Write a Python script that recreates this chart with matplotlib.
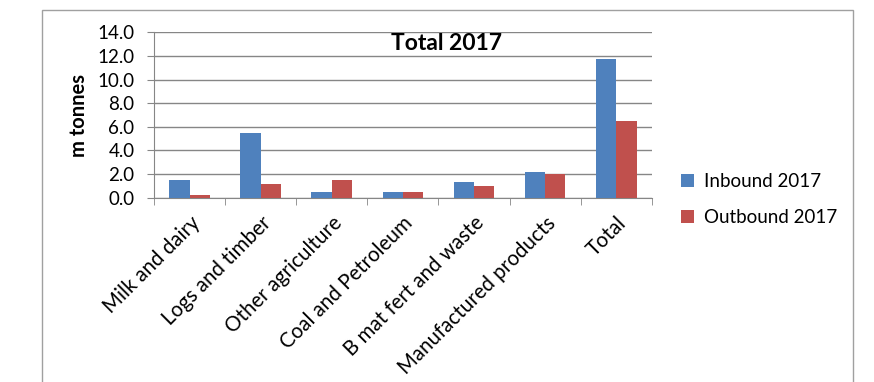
import matplotlib
matplotlib.use("Agg")
import matplotlib.pyplot as plt
from matplotlib.patches import Rectangle
import numpy as np

categories = ["Milk and dairy", "Logs and timber", "Other agriculture",
              "Coal and Petroleum", "B mat fert and waste",
              "Manufactured products", "Total"]
inbound_2017 = [1.5, 5.5, 0.5, 0.5, 1.3, 2.2, 11.7]
outbound_2017 = [0.2, 1.2, 1.5, 0.45, 1.0, 2.0, 6.5]
y_ticks = [0, 2, 4, 6, 8, 10, 12, 14]

plt.rcParams["font.family"] = ["Lato", "DejaVu Sans"]
FS = 13.5
GRID = "#868686"

fig = plt.figure(figsize=(8.74, 3.82), dpi=100)
ax = fig.add_axes([0.1762, 0.4825, 0.5695, 0.4329])

x = np.arange(len(categories))
w = 0.286
ax.bar(x - w / 2, inbound_2017, w, color="#4F81BD", label="Inbound 2017", zorder=3)
ax.bar(x + w / 2, outbound_2017, w, color="#C0504D", label="Outbound 2017", zorder=3)

ax.set_xlim(-0.5, len(categories) - 0.5)
ax.set_ylim(0, 14)
ax.set_yticks(y_ticks)
ax.set_yticklabels([f"{v:.1f}" for v in y_ticks], fontsize=FS)
ax.yaxis.grid(True, color=GRID, linewidth=1.0, zorder=0)
ax.tick_params(axis="y", length=5, color=GRID, pad=9)

ax.set_xticks(x)
ax.set_xticklabels(categories, rotation=45, ha="right", rotation_mode="anchor",
                   fontsize=14.8)
ax.set_xticks(np.arange(len(categories) + 1) - 0.5, minor=True)
ax.tick_params(axis="x", which="major", length=0, pad=11)
ax.tick_params(axis="x", which="minor", length=5, color=GRID)

for side in ("top", "right"):
    ax.spines[side].set_visible(False)
for side in ("left", "bottom"):
    ax.spines[side].set_color(GRID)

ax.set_ylabel("m tonnes", fontsize=14.5, fontweight="bold", labelpad=6)
ax.text(0.587, 13.95, "Total 2017", transform=ax.get_yaxis_transform(),
        ha="center", va="top", fontsize=16.5, fontweight="bold", zorder=4)

fig.legend(loc="center left", bbox_to_anchor=(0.760, 0.478), frameon=False,
           fontsize=FS, handlelength=0.7, handleheight=0.7, handletextpad=0.5,
           labelspacing=1.0)

fig.patches.append(Rectangle((42 / 874, -0.1), (853 - 42) / 874, 1.1 - 10 / 382,
                             transform=fig.transFigure, fill=False,
                             edgecolor="#A0A0A0", linewidth=1.0))

fig.savefig("out.png", dpi=100)
